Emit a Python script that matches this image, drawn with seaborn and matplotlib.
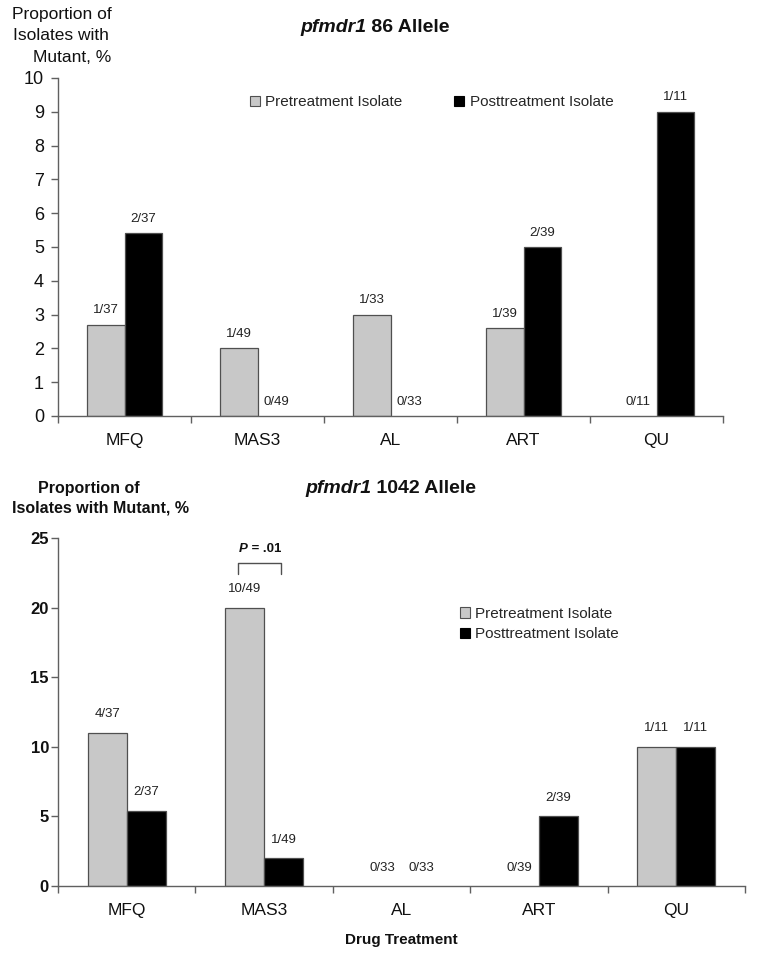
import numpy as np
import pandas as pd
import matplotlib
matplotlib.use("Agg")
import matplotlib.pyplot as plt
from matplotlib.patches import Patch
from matplotlib.ticker import FixedLocator
import seaborn as sns

# ---------------- data ----------------
drugs = ["MFQ", "MAS3", "AL", "ART", "QU"]
series = ["Pretreatment Isolate", "Posttreatment Isolate"]

pre86 = [2.7, 2.0, 3.0, 2.6, 0.0]
post86 = [5.4, 0.0, 0.0, 5.0, 9.0]
pre86_lbl = ["1/37", "1/49", "1/33", "1/39", "0/11"]
post86_lbl = ["2/37", "0/49", "0/33", "2/39", "1/11"]

pre1042 = [11.0, 20.0, 0.0, 0.0, 10.0]
post1042 = [5.4, 2.0, 0.0, 5.0, 10.0]
pre1042_lbl = ["4/37", "10/49", "0/33", "0/39", "1/11"]
post1042_lbl = ["2/37", "1/49", "0/33", "2/39", "1/11"]

y86_ticks = list(range(0, 11))
y1042_ticks = [0, 5, 10, 15, 20, 25]

# ---------------- style ----------------
sns.set_theme(style="ticks")
plt.rcParams["font.family"] = ["Liberation Sans", "DejaVu Sans"]
GREY = "#c8c8c8"
EDGE = "#505050"
SPINE = "#606060"
W, H = 759, 955


def fx(px):
    return px / W


def fy(py):
    return 1 - py / H


fig = plt.figure(figsize=(W / 100, H / 100), dpi=100)
ax1 = fig.add_axes([fx(58), fy(416), (723 - 58) / W, (416 - 78) / H])
ax2 = fig.add_axes([fx(58), fy(886), (745 - 58) / W, (886 - 538) / H])


def make_df(pre, post):
    return pd.DataFrame({
        "drug": drugs * 2,
        "series": [series[0]] * len(drugs) + [series[1]] * len(drugs),
        "value": list(pre) + list(post),
    })


def draw(ax, pre, post, pre_lbl, post_lbl, yticks, tick_bold, tick_size, pad_pts, ytick_pad):
    df = make_df(pre, post)
    sns.barplot(data=df, x="drug", y="value", hue="series", order=drugs,
                hue_order=series, palette={series[0]: GREY, series[1]: "black"},
                width=0.57, edgecolor=EDGE, linewidth=0.9, errorbar=None,
                legend=False, ax=ax)
    for cont, lbls in zip(ax.containers, [pre_lbl, post_lbl]):
        ax.bar_label(cont, labels=lbls, padding=pad_pts, fontsize=9.5, color="#222222")
        for bar in cont:
            if bar.get_height() == 0:
                bar.set_linewidth(0)
    ax.set_xlabel("")
    ax.set_ylabel("")
    ax.set_xlim(-0.5, len(drugs) - 0.5)
    ax.set_ylim(yticks[0], yticks[-1])
    ax.set_yticks(yticks)
    ax.set_yticklabels([str(t) for t in yticks],
                       fontweight="bold" if tick_bold else "normal", fontsize=tick_size)
    ax.set_xticks(range(len(drugs)))
    ax.set_xticklabels(drugs, fontsize=12.5)
    ax.xaxis.set_minor_locator(FixedLocator(np.arange(-0.5, len(drugs), 1.0)))
    ax.tick_params(axis="x", which="major", length=0, pad=12, colors="#111111")
    ax.tick_params(axis="x", which="minor", length=5, width=1, color=SPINE, direction="out")
    ax.tick_params(axis="y", which="major", length=5, width=1, color=SPINE,
                   direction="out", pad=ytick_pad, labelcolor="#111111")
    sns.despine(ax=ax)
    for s in ["left", "bottom"]:
        ax.spines[s].set_color(SPINE)
        ax.spines[s].set_linewidth(1.0)
    ax.set_facecolor("white")


draw(ax1, pre86, post86, pre86_lbl, post86_lbl, y86_ticks, False, 13, 6, 5)
draw(ax2, pre1042, post1042, pre1042_lbl, post1042_lbl, y1042_ticks, True, 12, 9, 1.5)


def two_part_title(x, y, part1, part2, size, style1="italic"):
    t1 = fig.text(fx(x), fy(y), part1, fontsize=size, fontweight="bold",
                  fontstyle=style1, ha="left", va="center", color="#111111")
    ann = plt.annotate(part2, xy=(1, 0), xycoords=t1, xytext=(0, 0),
                       textcoords="offset points", fontsize=size, fontweight="bold",
                       ha="left", va="bottom", color="#111111", annotation_clip=False)
    return t1, ann


two_part_title(300, 27, "pfmdr1", " 86 Allele", 14)
two_part_title(305, 488, "pfmdr1", " 1042 Allele", 14)

# y-axis labels
fig.text(fx(12), fy(15), "Proportion of", fontsize=12.5, ha="left", va="center", color="#111111")
fig.text(fx(13), fy(36), "Isolates with", fontsize=12.5, ha="left", va="center", color="#111111")
fig.text(fx(33), fy(57), "Mutant, %", fontsize=12.5, ha="left", va="center", color="#111111")
fig.text(fx(38), fy(488), "Proportion of", fontsize=11.5, fontweight="bold",
         ha="left", va="center", color="#111111")
fig.text(fx(12), fy(508), "Isolates with Mutant, %", fontsize=11.5, fontweight="bold",
         ha="left", va="center", color="#111111")
fig.text(fx(401), fy(940), "Drug Treatment", fontsize=11, fontweight="bold",
         ha="center", va="center", color="#111111")

# significance bracket on MAS3 (1042 panel)
cat = drugs.index("MAS3")
br_left, br_right = cat - 0.19, cat + 0.12
br_low, br_high = 22.4, 23.2
ax2.plot([br_left, br_left, br_right, br_right], [br_low, br_high, br_high, br_low],
         color=EDGE, lw=1, clip_on=False)
tp = ax2.text(cat - 0.185, 24.2, "P", fontsize=9.5, fontweight="bold", fontstyle="italic",
              ha="left", va="center", color="#111111")
ax2.annotate(" = .01", xy=(1, 0), xycoords=tp, xytext=(0, 0), textcoords="offset points",
             fontsize=9.5, fontweight="bold", ha="left", va="bottom", color="#111111")

# legends
handles = [Patch(facecolor=GREY, edgecolor=EDGE, linewidth=0.8),
           Patch(facecolor="black", edgecolor="black", linewidth=0.8)]
common = dict(frameon=False, fontsize=11, handlelength=0.65, handleheight=0.65,
              handletextpad=0.35, borderpad=0, borderaxespad=0)
fig.legend(handles, series, loc="center left", bbox_to_anchor=(fx(250), fy(102)),
           ncol=2, columnspacing=3.4, **common)
fig.legend(handles, series, loc="center left", bbox_to_anchor=(fx(460), fy(624)),
           ncol=1, labelspacing=0.4, **common)

fig.savefig("out.png", dpi=100, facecolor="white")
